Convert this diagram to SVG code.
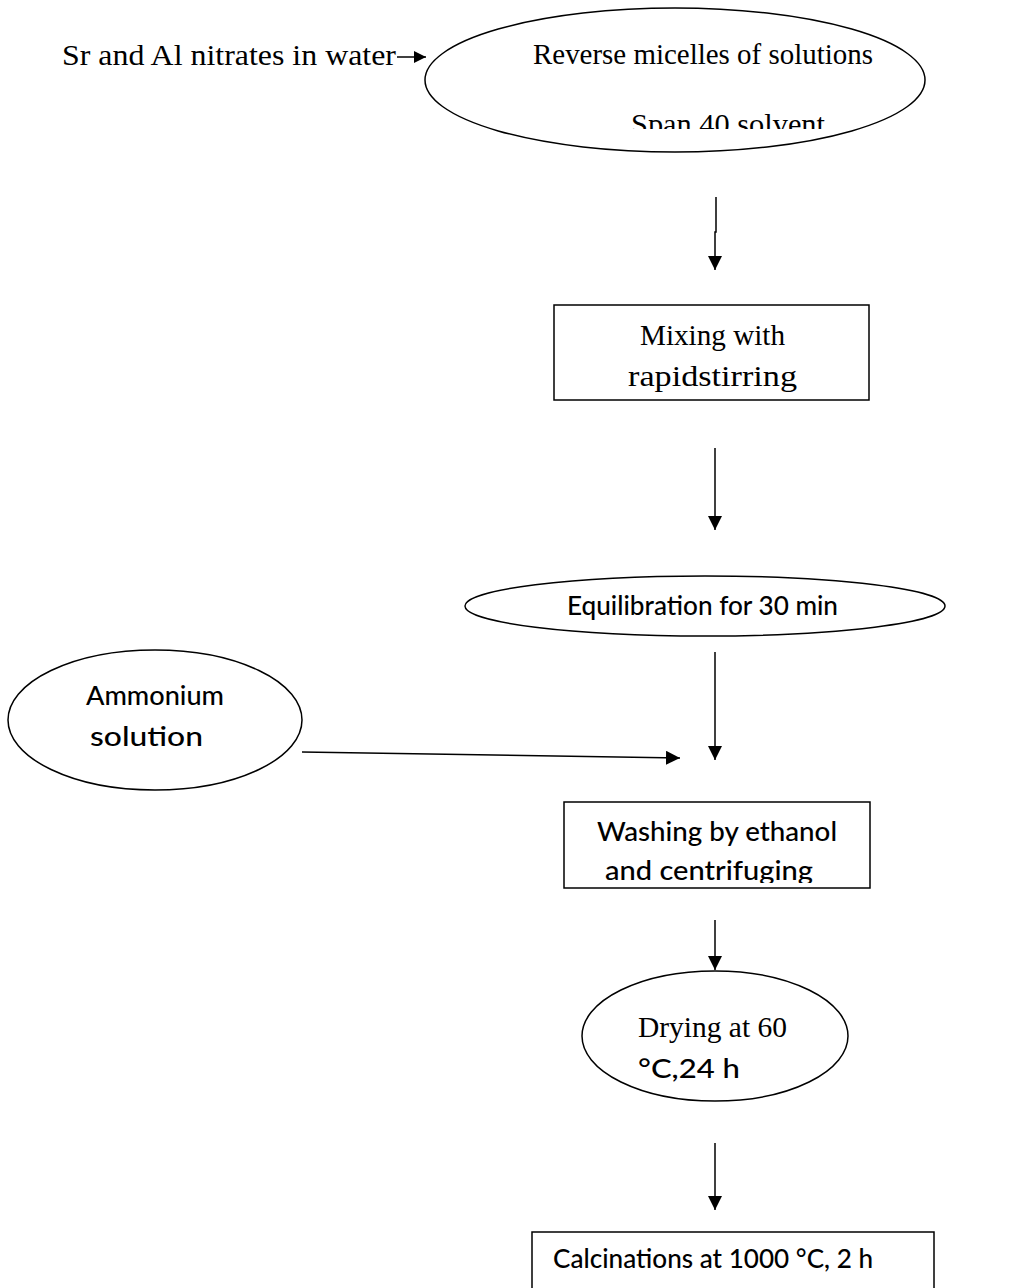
<svg xmlns="http://www.w3.org/2000/svg" width="1014" height="1288" viewBox="0 0 1014 1288">
<style>
.s{fill:#fff;stroke:#000;stroke-width:1.5}
.c{stroke:#000;stroke-width:1.5;fill:none}
.t{font-family:"Liberation Serif",serif;font-size:29px;fill:#000}
.a{font-family:Lato,"Open Sans",sans-serif;font-size:27px;fill:#000;font-weight:500}
</style>
<defs>
<marker id="ah" markerWidth="12" markerHeight="12" refX="12" refY="6" orient="auto" markerUnits="userSpaceOnUse" viewBox="0 0 12 12">
<path d="M0,0 L12,6 L0,12 Z" fill="#000"/>
</marker>
<marker id="ahd" markerWidth="14" markerHeight="14" refX="14" refY="7" orient="auto" markerUnits="userSpaceOnUse" viewBox="0 0 14 14">
<path d="M0,0 L14,7 L0,14 Z" fill="#000"/>
</marker>
<clipPath id="cl1"><rect x="425" y="0" width="500" height="129"/></clipPath>
<clipPath id="cl2"><rect x="564" y="802" width="306" height="81"/></clipPath>
</defs>
<g id="connectors">
<line class="c" x1="397" y1="57" x2="426" y2="57" marker-end="url(#ah)"/>
<polyline class="c" points="716,197 716,232 715,232 715,270" marker-end="url(#ahd)"/>
<line class="c" x1="715" y1="448" x2="715" y2="530" marker-end="url(#ahd)"/>
<line class="c" x1="715" y1="652" x2="715" y2="760" marker-end="url(#ahd)"/>
<line class="c" x1="302" y1="752" x2="680" y2="758" marker-end="url(#ahd)"/>
<line class="c" x1="715" y1="920" x2="715" y2="970" marker-end="url(#ahd)"/>
<line class="c" x1="715" y1="1143" x2="715" y2="1210" marker-end="url(#ahd)"/>
</g>
<g id="n0"><text class="t" x="62" y="65" textLength="334" lengthAdjust="spacingAndGlyphs">Sr and Al nitrates in water</text></g>
<g id="n1">
<ellipse class="s" cx="675" cy="80" rx="250" ry="72"/>
<text class="t" x="533" y="64" textLength="340" lengthAdjust="spacingAndGlyphs">Reverse micelles of solutions</text>
<text class="t" x="631" y="134" textLength="194" lengthAdjust="spacingAndGlyphs" clip-path="url(#cl1)">Span 40  solvent</text>
</g>
<g id="n2">
<rect class="s" x="554" y="305" width="315" height="95"/>
<text class="t" x="640" y="345" textLength="145" lengthAdjust="spacingAndGlyphs">Mixing with</text>
<text class="t" x="628" y="386" textLength="169" lengthAdjust="spacingAndGlyphs">rapidstirring</text>
</g>
<g id="n3">
<ellipse class="s" cx="705" cy="606" rx="240" ry="30"/>
<text class="a" x="567" y="615" textLength="271" lengthAdjust="spacingAndGlyphs">Equilibration for 30 min</text>
</g>
<g id="n4">
<ellipse class="s" cx="155" cy="720" rx="147" ry="70"/>
<text class="a" x="86" y="705" textLength="138" lengthAdjust="spacingAndGlyphs">Ammonium</text>
<text class="a" x="90" y="746" textLength="113" lengthAdjust="spacingAndGlyphs">solution</text>
</g>
<g id="n5">
<rect class="s" x="564" y="802" width="306" height="86"/>
<text class="a" x="597" y="841" textLength="240" lengthAdjust="spacingAndGlyphs">Washing by ethanol</text>
<text class="a" x="605" y="880" textLength="208" lengthAdjust="spacingAndGlyphs" clip-path="url(#cl2)">and centrifuging</text>
</g>
<g id="n6">
<ellipse class="s" cx="715" cy="1036" rx="133" ry="65"/>
<text class="t" x="638" y="1037" textLength="149" lengthAdjust="spacingAndGlyphs">Drying at 60</text>
<text class="a" x="638" y="1078" textLength="102" lengthAdjust="spacingAndGlyphs">°C,24 h</text>
</g>
<g id="n7">
<rect class="s" x="532" y="1232" width="402" height="60"/>
<text class="a" x="553" y="1268" textLength="320" lengthAdjust="spacingAndGlyphs">Calcinations at 1000 °C, 2 h</text>
</g>
</svg>
